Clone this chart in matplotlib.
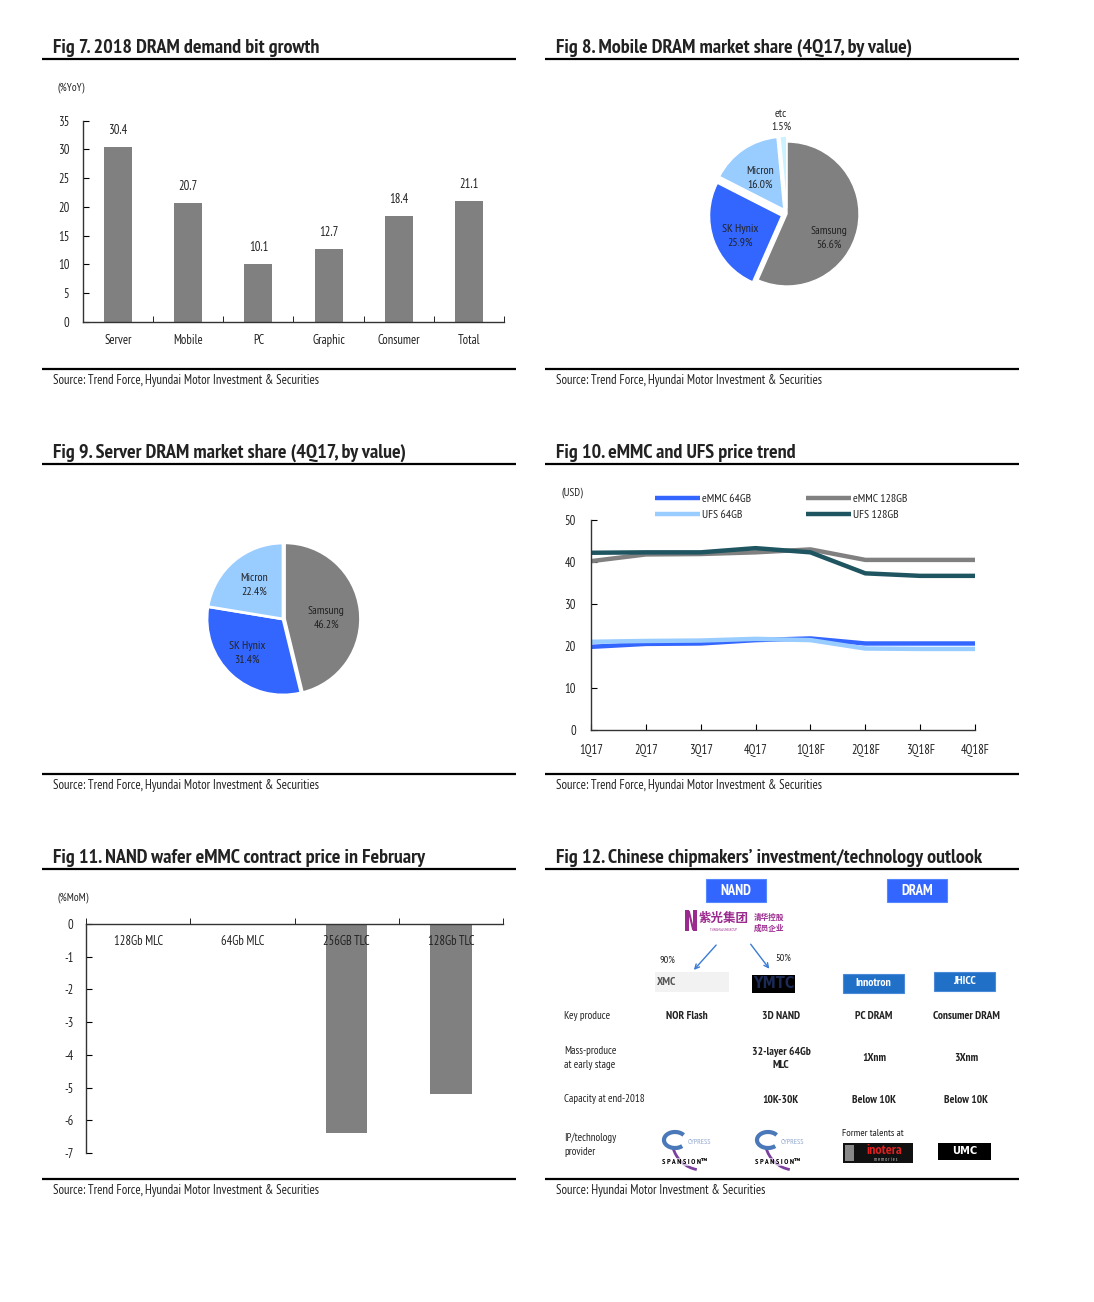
import matplotlib
matplotlib.use("Agg")
import matplotlib.pyplot as plt
import matplotlib.font_manager as fm
from matplotlib.patches import Rectangle, FancyArrowPatch, Arc

# ---------------- fonts ----------------
ent = {}
for f in fm.fontManager.ttflist:
    ent.setdefault(f.name, set()).add(f.stretch)
BASE, STRETCH = 'DejaVu Sans', 'normal'
for nm in ['PT Sans Narrow', 'Fira Sans Condensed', 'Roboto Condensed', 'Asap Condensed',
           'Liberation Sans Narrow', 'Liberation Sans']:
    if nm in ent:
        BASE = nm
        STRETCH = 'condensed' if 'condensed' in ent[nm] else 'normal'
        break
plt.rcParams['font.family'] = [BASE, 'Noto Sans CJK SC', 'DejaVu Sans']
plt.rcParams['font.stretch'] = STRETCH
plt.rcParams['axes.unicode_minus'] = False
CJK = ['Noto Sans CJK SC', 'DejaVu Sans']

# ---------------- data ----------------
titles = ["Fig 7. 2018 DRAM demand bit growth",
          "Fig 8. Mobile DRAM market share (4Q17, by value)",
          "Fig 9. Server DRAM market share (4Q17, by value)",
          "Fig 10. eMMC and UFS price trend",
          "Fig 11. NAND wafer eMMC contract price in February",
          "Fig 12. Chinese chipmakers\u2019 investment/technology outlook"]
src_tf = "Source: Trend Force, Hyundai Motor Investment & Securities"
src_h = "Source: Hyundai Motor Investment & Securities"

cats7 = ['Server', 'Mobile', 'PC', 'Graphic', 'Consumer', 'Total']
vals7 = [30.4, 20.7, 10.1, 12.7, 18.4, 21.1]

names8 = ['Samsung', 'SK Hynix', 'Micron', 'etc']
share8 = [56.6, 25.9, 16.0, 1.5]

names9 = ['Samsung', 'SK Hynix', 'Micron']
share9 = [46.2, 31.4, 22.4]

quarters = ['1Q17', '2Q17', '3Q17', '4Q17', '1Q18F', '2Q18F', '3Q18F', '4Q18F']
emmc64 = [19.8, 20.5, 20.6, 21.4, 21.8, 20.6, 20.6, 20.6]
emmc128 = [40.2, 41.8, 41.9, 42.3, 43.0, 40.5, 40.5, 40.5]
ufs64 = [21.0, 21.2, 21.3, 21.7, 21.4, 19.4, 19.3, 19.3]
ufs128 = [42.2, 42.3, 42.3, 43.3, 42.3, 37.3, 36.7, 36.7]

cats11 = ['128Gb MLC', '64Gb MLC', '256GB TLC', '128Gb TLC']
vals11 = [0, 0, -6.4, -5.2]

row_labels12 = ['Key produce', 'Mass-produce\nat early stage', 'Capacity at end-2018', 'IP/technology\nprovider']
companies12 = ['XMC', 'YMTC', 'Innotron', 'JHICC']
key_produce12 = ['NOR Flash', '3D NAND', 'PC DRAM', 'Consumer DRAM']
mass_prod12 = ['', '32-layer 64Gb\nMLC', '1Xnm', '3Xnm']
capacity12 = ['', '10K-30K', 'Below 10K', 'Below 10K']
stakes12 = ['90%', '50%']

GRAY = '#808080'
BLUE = '#3366ff'
LBLUE = '#99ccff'
TEAL = '#1f5560'

# ---------------- figure ----------------
W, H = 1094, 1302
fig = plt.figure(figsize=(W / 100, H / 100), dpi=100)
over = fig.add_axes([0, 0, 1, 1])
over.set_xlim(0, W)
over.set_ylim(H, 0)
over.axis('off')


def ax_px(x0, y0, x1, y1):
    return fig.add_axes([x0 / W, 1 - y1 / H, (x1 - x0) / W, (y1 - y0) / H])


FS = 9
TFS = 14.5
SFS = 9.2
TXT = '#222222'
panels = [(42, 516, 46), (545, 1019, 46), (42, 516, 451), (545, 1019, 451), (42, 516, 856), (545, 1019, 856)]
sources = [src_tf, src_tf, src_tf, src_tf, src_tf, src_h]
for (x0, x1, ty), t, s in zip(panels, titles, sources):
    over.text(x0 + 11, ty + 7, t, fontsize=TFS, fontweight='bold', ha='left', va='baseline', color=TXT)
    over.plot([x0, x1], [ty + 13, ty + 13], color='black', lw=1.6, solid_capstyle='butt')
    over.plot([x0, x1], [ty + 323, ty + 323], color='black', lw=1.6, solid_capstyle='butt')
    over.text(x0 + 11, ty + 338, s, fontsize=SFS, ha='left', va='baseline', color=TXT)


def style_axes(ax):
    for sp in ['top', 'right']:
        ax.spines[sp].set_visible(False)
    for sp in ['left', 'bottom']:
        ax.spines[sp].set_linewidth(1.0)
        ax.spines[sp].set_color('#333333')
    ax.set_facecolor('none')


# ---------------- Fig 7 ----------------
ax7 = ax_px(83, 120.7, 504, 321.7)
style_axes(ax7)
bars = ax7.bar(range(len(cats7)), vals7, width=0.4, color=GRAY)
ax7.bar_label(bars, labels=[f'{v:.1f}' for v in vals7], padding=7, fontsize=FS, color=TXT)
ax7.set_xlim(-0.5, len(cats7) - 0.5)
ax7.set_ylim(0, 35)
ax7.set_yticks(range(0, 36, 5))
ax7.set_xticks(range(len(cats7)))
ax7.set_xticklabels(cats7)
ax7.set_xticks([i - 0.5 for i in range(len(cats7) + 1)], minor=True)
ax7.tick_params(axis='x', which='major', length=0, pad=9, labelsize=FS, labelcolor=TXT)
ax7.tick_params(axis='x', which='minor', direction='in', length=4)
ax7.tick_params(axis='y', direction='in', length=4, pad=10, labelsize=FS, labelcolor=TXT)
over.text(58, 88, '(%YoY)', fontsize=8, ha='left', va='center', color=TXT)


# ---------------- pies ----------------
def pie_at(cx, cy, r, vals, names, colors, explode, lpos, lw):
    pad = 1.5
    ax = ax_px(cx - r * pad, cy - r * pad, cx + r * pad, cy + r * pad)
    ax.pie(vals, colors=colors, startangle=90, counterclock=False, explode=explode,
           wedgeprops=dict(edgecolor='white', linewidth=lw), radius=1)
    ax.set_xlim(-pad, pad)
    ax.set_ylim(-pad, pad)
    ax.set_aspect('equal')
    ax.axis('off')
    for n, v, (x, y) in zip(names, vals, lpos):
        ax.text(x, y, f'{n}\n{v:.1f}%', ha='center', va='center', fontsize=8.5, linespacing=1.45, color=TXT)


pie_at(787, 214, 72, share8, names8, [GRAY, BLUE, LBLUE, '#ccf2ff'],
       [0.0, 0.08, 0.08, 0.08],
       [(0.58, -0.33), (-0.65, -0.30), (-0.38, 0.50), (-0.08, 1.30)], 1.0)
pie_at(283, 619, 76, share9, names9, [GRAY, BLUE, LBLUE],
       [0.02, 0.0, 0.0],
       [(0.57, 0.01), (-0.47, -0.45), (-0.38, 0.45)], 2.0)

# ---------------- Fig 10 ----------------
ax10 = ax_px(591, 520, 975, 730)
style_axes(ax10)
x = range(len(quarters))
kw = dict(lw=3.2, solid_joinstyle='round', solid_capstyle='butt')
ax10.plot(x, emmc64, color=BLUE, label='eMMC 64GB', **kw)
ax10.plot(x, emmc128, color=GRAY, label='eMMC 128GB', **kw)
ax10.plot(x, ufs64, color=LBLUE, label='UFS 64GB', **kw)
ax10.plot(x, ufs128, color=TEAL, label='UFS 128GB', **kw)
ax10.set_xlim(0, len(quarters) - 1)
ax10.set_ylim(0, 50)
ax10.set_yticks(range(0, 51, 10))
ax10.set_xticks(list(x))
ax10.set_xticklabels(quarters)
ax10.tick_params(axis='x', direction='in', length=4, pad=10, labelsize=FS, labelcolor=TXT)
ax10.tick_params(axis='y', direction='in', length=4, pad=11, labelsize=FS, labelcolor=TXT)
h, l = ax10.get_legend_handles_labels()
order = [0, 2, 1, 3]
leg = ax10.legend([h[i] for i in order], [l[i] for i in order], ncol=2, frameon=False,
                  loc='upper left', bbox_to_anchor=(655 / W, 1 - 494 / H), bbox_transform=fig.transFigure,
                  borderpad=0, borderaxespad=0, handlelength=3.8, handletextpad=0.15,
                  columnspacing=4.7, labelspacing=0.45, fontsize=8.5)
for t in leg.get_texts():
    t.set_color(TXT)
over.text(562, 493, '(USD)', fontsize=8, ha='left', va='center', color=TXT)

# ---------------- Fig 11 ----------------
ax11 = ax_px(86, 924, 503, 1153)
style_axes(ax11)
ax11.spines['bottom'].set_visible(False)
ax11.spines['top'].set_visible(True)
ax11.spines['top'].set_linewidth(1.0)
ax11.spines['top'].set_color('#333333')
ax11.bar(range(len(cats11)), vals11, width=0.4, color=GRAY, zorder=1)
ax11.set_xlim(-0.5, len(cats11) - 0.5)
ax11.set_ylim(-7, 0)
ax11.set_yticks(range(-7, 1))
ax11.set_yticklabels([str(v) for v in range(-7, 1)])
ax11.xaxis.tick_top()
ax11.set_xticks(range(len(cats11)))
ax11.set_xticklabels([])
ax11.set_xticks([i - 0.5 for i in range(len(cats11) + 1)], minor=True)
ax11.tick_params(axis='x', which='major', length=0)
ax11.tick_params(axis='x', which='minor', direction='out', length=4)
ax11.tick_params(axis='y', direction='in', length=4, pad=9, labelsize=FS, labelcolor=TXT)
for i, c in enumerate(cats11):
    ax11.annotate(c, xy=(i, 0), xytext=(0, -18), textcoords='offset pixels',
                  ha='center', va='center', fontsize=FS, zorder=3, color=TXT)
over.text(57, 898, '(%MoM)', fontsize=8, ha='left', va='center', color=TXT)

# ---------------- Fig 12 ----------------
PURPLE = '#9b2a8e'
col_x = [687, 781, 874, 966]
for label, cx in [('NAND', 736), ('DRAM', 917)]:
    over.add_patch(Rectangle((cx - 30, 879), 60, 23, facecolor=BLUE, edgecolor='#5588ff', lw=0.8))
    over.text(cx, 891, label, color='white', fontsize=10.5, fontweight='bold', ha='center', va='center')
# Unigroup logo
over.add_patch(Rectangle((685, 910), 4, 21, facecolor=PURPLE, edgecolor='none'))
over.add_patch(Rectangle((693, 910), 4, 21, facecolor=PURPLE, edgecolor='none'))
over.plot([689, 693], [912, 929], color=PURPLE, lw=1.5)
over.text(724, 918, '紫光集团', family=CJK, color=PURPLE, fontsize=9, fontweight='bold', ha='center', va='center')
over.text(724, 930, 'TSINGHUA UNIGROUP', color=PURPLE, fontsize=2.5, ha='center', va='center')
over.text(769, 917, '清华控股', family=CJK, color=PURPLE, fontsize=5.5, fontweight='bold', ha='center', va='center')
over.text(769, 928, '成员企业', family=CJK, color=PURPLE, fontsize=5.5, fontweight='bold', ha='center', va='center')
for (xa, ya, xb, yb) in [(718, 943, 692, 972), (749, 942, 771, 971)]:
    over.add_patch(FancyArrowPatch((xa, ya), (xb, yb), arrowstyle='->', mutation_scale=8, color='#3a7bd5', lw=1.0))
over.text(667, 960, stakes12[0], fontsize=7.5, ha='center', va='center', color=TXT)
over.text(783, 958, stakes12[1], fontsize=7.5, ha='center', va='center', color=TXT)
over.add_patch(Rectangle((655, 972), 74, 20, facecolor='#f2f2f2', edgecolor='none'))
over.text(657, 982, companies12[0], color='#555555', fontsize=8.5, fontweight='bold', ha='left', va='center')
over.add_patch(Rectangle((752, 975), 43, 18, facecolor='black', edgecolor='none'))
over.text(773.5, 984, companies12[1], color='#1c2a55', fontsize=10.5, fontweight='bold', ha='center', va='center', family='DejaVu Sans')
for cname, (x0, y0) in zip(companies12[2:], [(843, 974), (934, 972)]):
    over.add_patch(Rectangle((x0, y0), 61, 19, facecolor='#2070c8', edgecolor='#4a8ad8', lw=0.8))
    over.text(x0 + 30.5, y0 + 9.5, cname, color='white', fontsize=8.5, fontweight='bold', ha='center', va='center')
row_y = [1016, 1058, 1099, 1145]
for lab, y in zip(row_labels12, row_y):
    over.text(564, y, lab, fontsize=7.8, ha='left', va='center', linespacing=1.5, color=TXT)
for vals, y in [(key_produce12, 1016), (mass_prod12, 1058), (capacity12, 1100)]:
    for v, cx in zip(vals, col_x):
        if v:
            over.text(cx, y, v, fontsize=8.2, fontweight='bold', ha='center', va='center', linespacing=1.4, color=TXT)
for cx in [687, 780]:
    over.add_patch(Arc((cx + 15, 1140), 60, 60, theta1=100, theta2=165, color='#7b3f9e', lw=2, zorder=1))
    over.add_patch(Arc((cx - 12, 1140), 22, 16, theta1=40, theta2=330, color='#4a78b8', lw=3, zorder=2))
    over.text(cx + 12, 1142, 'CYPRESS', color='#8fa6cf', fontsize=5.5, ha='center', va='center', zorder=2)
    over.text(cx - 2, 1162, 'S P A N S I O N\u2122', color='black', fontsize=5.5, fontweight='bold', ha='center', va='center',
              zorder=3, bbox=dict(facecolor='white', edgecolor='none', pad=0.3, alpha=0.6))
over.text(873, 1134, 'Former talents at', fontsize=7.5, ha='center', va='center', color=TXT)
over.add_patch(Rectangle((843, 1143), 70, 20, facecolor='#111111', edgecolor='none'))
over.add_patch(Rectangle((845, 1145), 9, 16, facecolor='#888888', edgecolor='none'))
over.text(884, 1151, 'inotera', color='#e02020', fontsize=10, fontweight='bold', style='italic', ha='center', va='center')
over.text(886, 1159.5, 'm e m o r i e s', color='#cccccc', fontsize=3.5, ha='center', va='center')
over.add_patch(Rectangle((938, 1143), 53, 17, facecolor='black', edgecolor='none'))
over.text(964.5, 1151.5, 'UMC', color='white', fontsize=8, fontweight='bold', ha='center', va='center', family='DejaVu Sans')

fig.savefig('out.png', dpi=100, facecolor='white')
